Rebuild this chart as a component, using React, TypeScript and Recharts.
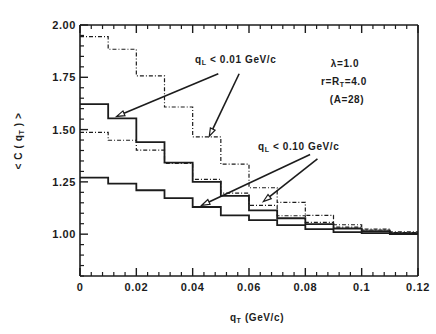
import { LineChart, Line, XAxis, YAxis, ReferenceLine } from 'recharts';

// bin starts of the histograms (bin width 0.01 GeV/c)
const binStarts = [0, 0.01, 0.02, 0.03, 0.04, 0.05, 0.06, 0.07, 0.08, 0.09, 0.1, 0.11];
const binEnd = 0.12;

// q_L < 0.01 GeV/c
const dashHigh = [1.944, 1.884, 1.757, 1.608, 1.465, 1.335, 1.222, 1.152, 1.09, 1.045, 1.024, 1.011];
const solidHigh = [1.622, 1.554, 1.44, 1.342, 1.25, 1.183, 1.114, 1.076, 1.048, 1.027, 1.014, 1.005];
// q_L < 0.10 GeV/c
const dashLow = [1.487, 1.449, 1.402, 1.338, 1.262, 1.196, 1.138, 1.088, 1.056, 1.034, 1.02, 1.008];
const solidLow = [1.27, 1.242, 1.21, 1.172, 1.13, 1.09, 1.067, 1.043, 1.024, 1.01, 1.005, 1.0];

const xTicks = [0, 0.02, 0.04, 0.06, 0.08, 0.1, 0.12];
const xTickLabels = ['0', '0.02', '0.04', '0.06', '0.08', '0.1', '0.12'];
const yTicks = [1.0, 1.25, 1.5, 1.75, 2.0];
const yTickLabels = ['1.00', '1.25', '1.50', '1.75', '2.00'];
const xMinor = Array.from({ length: 31 }, (_, i) => +(i * 0.004).toFixed(3));
const yMinor = Array.from({ length: 25 }, (_, i) => +(0.8 + i * 0.05).toFixed(2));

// arrows: [from, to] in data units
const arrows = [
  [{ x: 0.0491, y: 1.767 }, { x: 0.013, y: 1.563 }],
  [{ x: 0.0565, y: 1.767 }, { x: 0.0459, y: 1.468 }],
  [{ x: 0.0817, y: 1.381 }, { x: 0.0432, y: 1.138 }],
  [{ x: 0.0843, y: 1.36 }, { x: 0.0651, y: 1.156 }],
];

const ink = '#1c1c1c';
const font = '"Liberation Sans", Arial, sans-serif';

const rows = [
  ...binStarts.map((q, i) => ({ q, dashHigh: dashHigh[i], solidHigh: solidHigh[i], dashLow: dashLow[i], solidLow: solidLow[i] })),
  {
    q: binEnd,
    dashHigh: dashHigh[dashHigh.length - 1],
    solidHigh: solidHigh[solidHigh.length - 1],
    dashLow: dashLow[dashLow.length - 1],
    solidLow: solidLow[solidLow.length - 1],
  },
];

function Arrow(props: any) {
  const { x1, y1, x2, y2 } = props;
  const dx = x2 - x1;
  const dy = y2 - y1;
  const len = Math.sqrt(dx * dx + dy * dy);
  const ux = dx / len;
  const uy = dy / len;
  const hl = 8;
  const hw = 2.6;
  const bx = x2 - ux * hl;
  const by = y2 - uy * hl;
  const pts = `${x2},${y2} ${bx - uy * hw},${by + ux * hw} ${bx + uy * hw},${by - ux * hw}`;
  return (
    <g>
      <line x1={x1} y1={y1} x2={bx} y2={by} stroke={ink} strokeWidth={1.6} />
      <polygon points={pts} fill="#fff" stroke={ink} strokeWidth={1.2} />
    </g>
  );
}

const labelStyle = { fill: ink, fontSize: 11, fontWeight: 700, fontFamily: font, letterSpacing: 0.6 };

// inward tick marks drawn at the axis position; labels only on bottom/left
function makeTick(side: 'bottom' | 'top' | 'left' | 'right', majors: number[], labels?: string[]) {
  return (props: any) => {
    const { x, y, payload } = props;
    const idx = majors.indexOf(payload.value);
    const len = idx >= 0 ? 8 : 4;
    const w = idx >= 0 ? 1.4 : 1.2;
    let line;
    if (side === 'bottom') line = <line x1={x} y1={y} x2={x} y2={y - len} stroke={ink} strokeWidth={w} />;
    else if (side === 'top') line = <line x1={x} y1={y} x2={x} y2={y + len} stroke={ink} strokeWidth={w} />;
    else if (side === 'left') line = <line x1={x} y1={y} x2={x + len} y2={y} stroke={ink} strokeWidth={w} />;
    else line = <line x1={x} y1={y} x2={x - len} y2={y} stroke={ink} strokeWidth={w} />;
    let text = null;
    if (labels && idx >= 0) {
      if (side === 'bottom')
        text = (
          <text x={x} y={y + 15} textAnchor="middle" style={labelStyle}>
            {labels[idx]}
          </text>
        );
      else if (side === 'left')
        text = (
          <text x={x - 4} y={y + 4} textAnchor="end" style={labelStyle}>
            {labels[idx]}
          </text>
        );
    }
    return (
      <g>
        {line}
        {text}
      </g>
    );
  };
}

export default function App() {
  return (
    <div style={{ position: 'absolute', left: 0, top: 0, width: 436, height: 334, background: '#fff' }}>
      <LineChart width={436} height={334} data={rows} margin={{ top: 24, right: 17, bottom: 28, left: 30 }}>
        <XAxis
          xAxisId="x"
          dataKey="q"
          type="number"
          domain={[0, 0.12]}
          ticks={xMinor}
          tick={makeTick('bottom', xTicks, xTickLabels)}
          tickLine={false}
          tickSize={0}
          tickMargin={0}
          height={30}
          axisLine={{ stroke: ink, strokeWidth: 1.6 }}
          interval={0}
        />
        <XAxis
          xAxisId="top"
          orientation="top"
          dataKey="q"
          type="number"
          domain={[0, 0.12]}
          ticks={xMinor}
          tick={makeTick('top', xTicks)}
          tickLine={false}
          tickSize={0}
          tickMargin={0}
          height={1}
          axisLine={{ stroke: ink, strokeWidth: 1.6 }}
          interval={0}
        />
        <YAxis
          yAxisId="y"
          type="number"
          domain={[0.8, 2.0]}
          ticks={yMinor}
          tick={makeTick('left', yTicks, yTickLabels)}
          tickLine={false}
          tickSize={0}
          tickMargin={0}
          width={50}
          axisLine={{ stroke: ink, strokeWidth: 1.6 }}
          interval={0}
        />
        <YAxis
          yAxisId="right"
          orientation="right"
          type="number"
          domain={[0.8, 2.0]}
          ticks={yMinor}
          tick={makeTick('right', yTicks)}
          tickLine={false}
          tickSize={0}
          tickMargin={0}
          width={1}
          axisLine={{ stroke: ink, strokeWidth: 1.6 }}
          interval={0}
        />

        <Line xAxisId="x" yAxisId="y" type="stepAfter" dataKey="dashHigh" stroke={ink} strokeWidth={1.2} strokeDasharray="4 2 1 2" dot={false} isAnimationActive={false} />
        <Line xAxisId="x" yAxisId="y" type="stepAfter" dataKey="solidHigh" stroke={ink} strokeWidth={1.8} dot={false} isAnimationActive={false} />
        <Line xAxisId="x" yAxisId="y" type="stepAfter" dataKey="dashLow" stroke={ink} strokeWidth={1.2} strokeDasharray="4 2 1 2" dot={false} isAnimationActive={false} />
        <Line xAxisId="x" yAxisId="y" type="stepAfter" dataKey="solidLow" stroke={ink} strokeWidth={1.8} dot={false} isAnimationActive={false} />

        {arrows.map((seg, i) => (
          <ReferenceLine key={i} xAxisId="x" yAxisId="y" segment={seg} shape={Arrow} ifOverflow="visible" />
        ))}
      </LineChart>

      <svg width={436} height={334} style={{ position: 'absolute', left: 0, top: 0, pointerEvents: 'none' }}>
        <g fill={ink} fontFamily={font} fontWeight={700} fontSize={10} letterSpacing={0.6}>
          <text x={195} y={63}>
            q<tspan fontSize={7} dy={2}>L</tspan>
            <tspan dy={-2}> &lt; 0.01 GeV/c</tspan>
          </text>
          <text x={258} y={150}>
            q<tspan fontSize={7} dy={2}>L</tspan>
            <tspan dy={-2}> &lt; 0.10 GeV/c</tspan>
          </text>
          <text x={345} y={67} textAnchor="middle">λ=1.0</text>
          <text x={344} y={85} textAnchor="middle">
            r=R<tspan fontSize={7} dy={2}>T</tspan>
            <tspan dy={-2}>=4.0</tspan>
          </text>
          <text x={347} y={103} textAnchor="middle">(A=28)</text>
          <text x={257} y={321} textAnchor="middle">
            q<tspan fontSize={7} dy={2}>T</tspan>
            <tspan dy={-2}> (GeV/c)</tspan>
          </text>
          <text x={22} y={141} textAnchor="middle" transform="rotate(-90 22 141)">
            &lt; C ( q<tspan fontSize={7} dy={2}>T</tspan>
            <tspan dy={-2}> ) &gt;</tspan>
          </text>
        </g>
      </svg>
    </div>
  );
}
